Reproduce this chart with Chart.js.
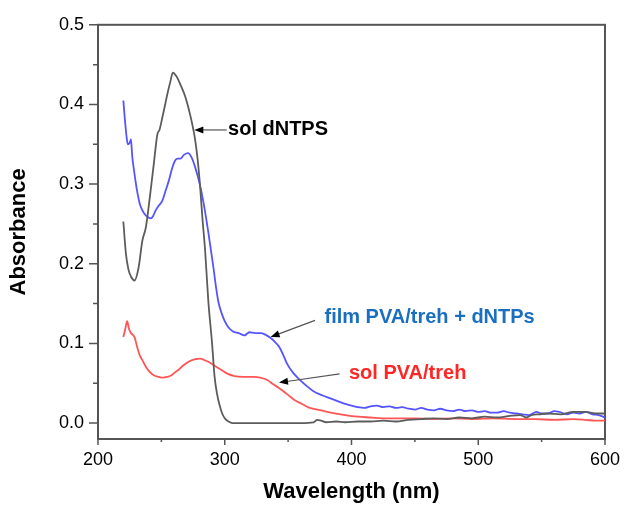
<!DOCTYPE html>
<html>
<head>
<meta charset="utf-8">
<script src="https://cdn.jsdelivr.net/npm/chart.js@4/dist/chart.umd.min.js"></script>
<style>
    html, body { margin: 0; padding: 0; background: #fff; }
    canvas { display: block; }
</style>
</head>
<body>
<canvas id="Chart1" width="630" height="505"></canvas>
<script>
// sol dNTPS (grey)
const wlDntps = [220, 222, 224, 226, 228.8, 232, 235, 237.8, 241, 244, 246.9, 248.5, 250.8, 253, 255, 257, 259, 262, 265, 269, 273, 276.7, 279, 280.6, 282.5, 284.5, 287, 290, 292, 294, 296, 298, 300, 303, 306, 320, 340, 360, 370, 373, 376, 380, 388, 395, 405, 415, 425, 435, 445, 455, 465, 475, 485, 495, 505, 515, 525, 533, 538, 542, 548, 555, 565, 575, 585, 592, 600];
const absDntps = [0.253, 0.213, 0.193, 0.184, 0.179, 0.195, 0.229, 0.246, 0.285, 0.325, 0.363, 0.368, 0.384, 0.400, 0.415, 0.428, 0.440, 0.435, 0.425, 0.409, 0.385, 0.355, 0.325, 0.296, 0.255, 0.217, 0.154, 0.100, 0.058, 0.036, 0.022, 0.012, 0.006, 0.002, 0.000, 0.000, 0.000, 0.000, 0.001, 0.004, 0.003, 0.001, 0.002, 0.001, 0.002, 0.002, 0.003, 0.002, 0.004, 0.005, 0.006, 0.005, 0.007, 0.006, 0.008, 0.007, 0.009, 0.010, 0.007, 0.010, 0.011, 0.012, 0.011, 0.014, 0.014, 0.012, 0.012];

// film PVA/treh + dNTPs (blue)
const wlFilm = [220, 221, 222.5, 223.5, 225, 226, 227, 228.8, 231, 233, 235, 238, 241.7, 243.5, 245.5, 248, 250.7, 253, 256, 258.5, 261, 263, 265, 268, 271, 274, 276.7, 280, 283, 287, 289, 291, 293, 295, 297.5, 300, 303, 306.5, 311, 315.6, 317.5, 319.4, 324, 328.5, 332, 336, 339.5, 342.8, 346, 349, 354, 359.5, 365, 370, 375, 380, 385, 390, 395, 400, 405, 410, 415, 420, 425, 430, 435, 440, 445, 450, 455, 460, 465, 470, 475, 480, 485, 490, 495, 500, 505, 510, 515, 520, 525, 530, 535, 540, 546, 550, 555, 560, 564, 570, 575, 580, 585, 590, 595, 600];
const absFilm = [0.405, 0.385, 0.360, 0.350, 0.352, 0.356, 0.335, 0.313, 0.290, 0.275, 0.267, 0.260, 0.257, 0.260, 0.267, 0.273, 0.279, 0.290, 0.305, 0.320, 0.330, 0.332, 0.332, 0.337, 0.339, 0.333, 0.321, 0.302, 0.279, 0.240, 0.218, 0.196, 0.172, 0.152, 0.138, 0.128, 0.120, 0.115, 0.113, 0.110, 0.112, 0.114, 0.113, 0.113, 0.111, 0.107, 0.102, 0.096, 0.086, 0.075, 0.063, 0.054, 0.046, 0.040, 0.036, 0.033, 0.030, 0.027, 0.024, 0.022, 0.020, 0.019, 0.021, 0.022, 0.020, 0.021, 0.019, 0.020, 0.018, 0.017, 0.019, 0.017, 0.016, 0.018, 0.016, 0.015, 0.017, 0.015, 0.016, 0.014, 0.015, 0.013, 0.013, 0.015, 0.013, 0.012, 0.011, 0.010, 0.014, 0.012, 0.012, 0.015, 0.014, 0.011, 0.013, 0.012, 0.014, 0.011, 0.010, 0.007];

// sol PVA/treh (red)
const wlPva = [220, 221.5, 223, 224.5, 226, 228.8, 231, 233, 235, 238, 240.4, 244, 248, 251, 254.6, 258, 261, 263.7, 267, 271.5, 276, 280.6, 284, 287, 292, 297, 302, 307.7, 315, 323, 328, 333.6, 338, 342.8, 347, 351.8, 356, 361, 367, 373, 380, 388, 395, 405, 415, 425, 435, 450, 465, 480, 495, 512, 530, 545, 560, 575, 585, 592, 600];
const absPva = [0.108, 0.118, 0.128, 0.118, 0.113, 0.108, 0.095, 0.085, 0.079, 0.070, 0.065, 0.060, 0.058, 0.057, 0.058, 0.060, 0.064, 0.067, 0.072, 0.077, 0.080, 0.081, 0.079, 0.077, 0.072, 0.067, 0.062, 0.059, 0.058, 0.058, 0.057, 0.054, 0.049, 0.044, 0.039, 0.033, 0.028, 0.024, 0.019, 0.017, 0.0145, 0.012, 0.010, 0.008, 0.007, 0.006, 0.006, 0.006, 0.005, 0.006, 0.005, 0.006, 0.005, 0.005, 0.004, 0.005, 0.004, 0.003, 0.003];

// axis ticks
const xMajor = [200, 300, 400, 500, 600];
const xMinor = [250, 350, 450, 550];
const yMajor = [0, 0.1, 0.2, 0.3, 0.4, 0.5];
const yMinor = [0.05, 0.15, 0.25, 0.35, 0.45];

// callouts, anchored in data units
const notes = [
    { text: "sol dNTPS", color: "#000000", at: [302.6, 0.368], from: [301.5, 0.368], to: [276, 0.368] },
    { text: "film PVA/treh + dNTPs", color: "#1b6fc0", at: [378.7, 0.132], from: [371.2, 0.129], to: [336.2, 0.108] },
    { text: "sol PVA/treh", color: "#ff2626", at: [398, 0.0626], from: [390.6, 0.0617], to: [342.8, 0.0508] },
];

const toPoints = (xs, ys) => xs.map((x, i) => ({ x: x, y: ys[i] }));

// box frame, tick marks and callouts
const framePlugin = {
    id: "frame",
    beforeDatasetsDraw(chart) {
        const { ctx, chartArea: a, scales: { x, y } } = chart;
        ctx.save();
        ctx.strokeStyle = "#555";
        ctx.lineWidth = 2;
        ctx.strokeRect(a.left, a.top, a.right - a.left, a.bottom - a.top);
        ctx.lineWidth = 1.5;
        ctx.beginPath();
        xMajor.forEach(v => { const p = x.getPixelForValue(v); ctx.moveTo(p, a.bottom); ctx.lineTo(p, a.bottom + 6); });
        xMinor.forEach(v => { const p = x.getPixelForValue(v); ctx.moveTo(p, a.bottom); ctx.lineTo(p, a.bottom + 3); });
        yMajor.forEach(v => { const p = y.getPixelForValue(v); ctx.moveTo(a.left, p); ctx.lineTo(a.left - 9, p); });
        yMinor.forEach(v => { const p = y.getPixelForValue(v); ctx.moveTo(a.left, p); ctx.lineTo(a.left - 5, p); });
        ctx.stroke();
        ctx.restore();
    },
    afterDatasetsDraw(chart) {
        const { ctx, scales: { x, y } } = chart;
        ctx.save();
        notes.forEach(n => {
            const x1 = x.getPixelForValue(n.from[0]), y1 = y.getPixelForValue(n.from[1]);
            const x2 = x.getPixelForValue(n.to[0]), y2 = y.getPixelForValue(n.to[1]);
            const ang = Math.atan2(y2 - y1, x2 - x1);
            ctx.strokeStyle = "#555";
            ctx.lineWidth = 1.2;
            ctx.beginPath();
            ctx.moveTo(x1, y1);
            ctx.lineTo(x2 - 6 * Math.cos(ang), y2 - 6 * Math.sin(ang));
            ctx.stroke();
            // arrow head
            ctx.fillStyle = "#000";
            ctx.beginPath();
            ctx.moveTo(x2, y2);
            ctx.lineTo(x2 - 9 * Math.cos(ang) + 3.5 * Math.sin(ang), y2 - 9 * Math.sin(ang) - 3.5 * Math.cos(ang));
            ctx.lineTo(x2 - 9 * Math.cos(ang) - 3.5 * Math.sin(ang), y2 - 9 * Math.sin(ang) + 3.5 * Math.cos(ang));
            ctx.closePath();
            ctx.fill();
            ctx.fillStyle = n.color;
            ctx.font = "bold 20px 'Liberation Sans', Arial, sans-serif";
            ctx.textAlign = "left";
            ctx.textBaseline = "middle";
            ctx.fillText(n.text, x.getPixelForValue(n.at[0]), y.getPixelForValue(n.at[1]));
        });
        ctx.restore();
    }
};

const line = (data, color) => ({
    data: data,
    borderColor: color,
    backgroundColor: "transparent",
    borderWidth: 1.8,
    pointRadius: 0,
    cubicInterpolationMode: "monotone",
    fill: false,
});

const ctx1 = document.getElementById("Chart1").getContext("2d");
const chart1 = new Chart(ctx1, {
    type: "line",
    data: {
        datasets: [
            line(toPoints(wlDntps, absDntps), "#5c5c5c"),
            line(toPoints(wlFilm, absFilm), "#5555ff"),
            line(toPoints(wlPva, absPva), "#ff5555"),
        ],
    },
    options: {
        responsive: false,
        animation: false,
        devicePixelRatio: 1,
        layout: { padding: { top: 24, right: 17, left: 0, bottom: 0 } },
        plugins: { legend: { display: false }, tooltip: { enabled: false } },
        scales: {
            x: {
                type: "linear",
                min: 200,
                max: 600,
                afterBuildTicks: s => { s.ticks = xMajor.map(v => ({ value: v })); },
                afterFit: s => { s.height = 66; },
                grid: { display: false, drawTicks: false },
                border: { display: false },
                ticks: {
                    padding: 10,
                    maxRotation: 0,
                    autoSkip: false,
                    color: "#000",
                    font: { family: "'Liberation Sans', Arial, sans-serif", size: 18 },
                    callback: v => String(v),
                },
                title: {
                    display: true,
                    text: "Wavelength (nm)",
                    color: "#000",
                    padding: 0,
                    font: { family: "'Liberation Sans', Arial, sans-serif", size: 22, weight: "bold" },
                },
            },
            y: {
                min: -0.02,
                max: 0.5,
                afterBuildTicks: s => { s.ticks = yMajor.map(v => ({ value: v })); },
                afterFit: s => { s.width = 98; },
                grid: { display: false, drawTicks: false },
                border: { display: false },
                ticks: {
                    padding: 14,
                    color: "#000",
                    font: { family: "'Liberation Sans', Arial, sans-serif", size: 18 },
                    callback: v => Number(v).toFixed(1),
                },
                title: {
                    display: true,
                    text: "Absorbance",
                    color: "#000",
                    padding: { top: 6, bottom: 0 },
                    font: { family: "'Liberation Sans', Arial, sans-serif", size: 22, weight: "bold" },
                },
            },
        },
    },
    plugins: [framePlugin],
});
</script>
</body>
</html>
